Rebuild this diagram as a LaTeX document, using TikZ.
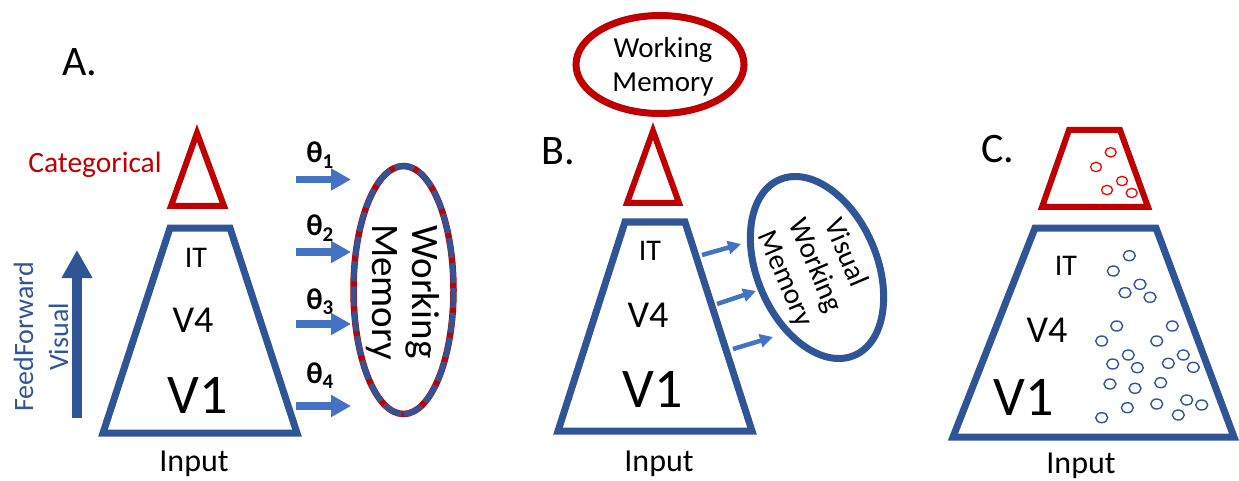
\documentclass[tikz,border=0pt]{standalone}
\usepackage{fontspec}
\setmainfont{Carlito}
\usetikzlibrary{shapes.geometric,arrows.meta}
\definecolor{dblue}{HTML}{2F5597}
\definecolor{dred}{HTML}{C00000}
\definecolor{lblue}{HTML}{4472C4}
\begin{document}
\begin{tikzpicture}[x=1pt,y=-1pt,
  stage/.style={draw=dblue, line width=7pt, line join=miter},
  topstage/.style={draw=dred, line width=6pt, line join=miter},
  lbl/.style={inner sep=0pt, anchor=base},
  fsIT/.style={font=\fontsize{30}{34}\selectfont},
  fsVfour/.style={font=\fontsize{38}{42}\selectfont},
  fsVone/.style={font=\fontsize{56}{60}\selectfont},
  fsIn/.style={font=\fontsize{32}{36}\selectfont},
  fsPanel/.style={font=\fontsize{42}{46}\selectfont},
  wmtext/.style={inner sep=0pt, align=center},
  fatarrow/.style={lblue, line width=7.5pt, -{Triangle[width=21pt,length=20pt]}},
  thinarrow/.style={lblue, line width=4.5pt, -{Triangle[width=13pt,length=13pt]}},
  redcell/.style={red, line width=1.3pt},
  bluecell/.style={dblue, line width=1.4pt}]
\useasboundingbox (0,0) rectangle (1239,481);

% ---------------- Panel A ----------------
\node[lbl, fsPanel] (labA) at (80,76) {A.};
\draw[stage] (103,433) -- (170,228) -- (230,228) -- (297,433) -- cycle;
\draw[topstage] (197,133) -- (224,206) -- (171,206) -- cycle;
\node[lbl, text=dred, font=\fontsize{29.5}{33}\selectfont] (catA) at (95,173) {Categorical};
\node[lbl, fsIT] (itA) at (196,267) {IT};
\node[lbl, fsVfour] (v4A) at (193,332) {V4};
\node[lbl, fsVone] (v1A) at (198,413) {V1};
\node[lbl, fsIn] (inA) at (194,471) {Input};

% feed-forward direction
\node[inner sep=0pt, align=center, rotate=90, text=dblue,
      font=\fontsize{28}{35}\selectfont] (ffA) at (41,337) {FeedForward\\Visual};
\coordinate (ffTail) at (77,418);
\coordinate (ffTip) at (77,250);
\draw[dblue, line width=10pt, -{Triangle[width=29pt,length=28pt]}] (ffTail) -- (ffTip);

% read-out arrows into working memory
\foreach \i/\yy in {1/179.5,2/252,3/324,4/406}{
  \coordinate (ta\i) at (296,\yy);
  \coordinate (ha\i) at (351,\yy);
  \draw[fatarrow] (ta\i) -- (ha\i);
}
\foreach \i/\yy in {1/163,2/236,3/309,4/383}{
  \node[lbl, font=\fontsize{30}{34}\selectfont\bfseries] (th\i) at (320,\yy) {θ\textsubscript{\i}};
}
\node[ellipse, draw=dred, line width=6.5pt, minimum width=248pt, minimum height=100pt,
      inner sep=0pt, rotate=-90,
      postaction={draw=dblue, line width=5.5pt, dash pattern=on 20pt off 5pt}] (wmA) at (403.5,290) {};
\node[wmtext, rotate=-90, font=\fontsize{39}{40}\selectfont] (wmAt) at (403,292) {Working\\Memory};

% ---------------- Panel B ----------------
\node[lbl, fsPanel] (labB) at (558,165) {B.};
\node[ellipse, draw=dred, line width=7pt, minimum width=168pt, minimum height=98pt, inner sep=0pt] (wmB) at (660,64.5) {};
\node[wmtext, font=\fontsize{29}{34}\selectfont] (wmBt) at (663,67) {Working\\Memory};
\draw[topstage] (653,131) -- (679,203) -- (627,203) -- cycle;
\draw[stage] (558,431) -- (625,222) -- (685,222) -- (752,431) -- cycle;
\node[lbl, fsIT] (itB) at (650,260) {IT};
\node[lbl, fsVfour] (v4B) at (648,327) {V4};
\node[lbl, fsVone] (v1B) at (653,407) {V1};
\node[lbl, fsIn] (inB) at (659,471) {Input};

\node[ellipse, draw=dblue, line width=7pt, minimum width=191pt, minimum height=120pt,
      inner sep=0pt, rotate=-67] (vwm) at (817,267.5) {};
\node[wmtext, rotate=-67, font=\fontsize{29}{33}\selectfont] (vwmt) at (815,266) {Visual\\Working\\Memory};

\coordinate (tb1) at (702,255); \coordinate (hb1) at (741,244);
\coordinate (tb2) at (717,304); \coordinate (hb2) at (756,291);
\coordinate (tb3) at (733,349); \coordinate (hb3) at (773,337);
\foreach \i in {1,2,3}{ \draw[thinarrow] (tb\i) -- (hb\i); }

% ---------------- Panel C ----------------
\node[lbl, fsPanel] (labC) at (998,163) {C.};
\draw[topstage] (1042,207) -- (1069,130) -- (1120,130) -- (1148,207) -- cycle;
\draw[stage] (953,437) -- (1035,228) -- (1156,228) -- (1234,437) -- cycle;
\node[lbl, fsIT] (itC) at (1066,275) {IT};
\node[lbl, fsVfour] (v4C) at (1047,342) {V4};
\node[lbl, fsVone] (v1C) at (1024,415) {V1};
\node[lbl, fsIn] (inC) at (1081,473) {Input};

% sparse category units
\foreach \cx/\cy in {1110.7/152.3,1096/167,1122/181,1107/190,1131.7/193}{
  \draw[redcell] (\cx,\cy) ellipse [x radius=5.5, y radius=4.7];
}
% distributed visual units
\foreach \cx/\cy in {1129.3/255.7,1113.3/271,1140/284.3,1125/292.7,1150/297.3,
                     1116.7/326,1172.3/326,1101.7/341,1156.7/341,1128.3/355,
                     1183.3/355,1112.7/364,1137.3/367.7,1168.3/363.3,1193.3/367.3,
                     1110/384,1135/388.3,1160.7/382.7,1127.3/407.7,1156.7/404,
                     1186.7/400,1201.7/405,1178.3/415,1101.7/417.7}{
  \draw[bluecell] (\cx,\cy) ellipse [x radius=6, y radius=5];
}
\end{tikzpicture}
\end{document}
